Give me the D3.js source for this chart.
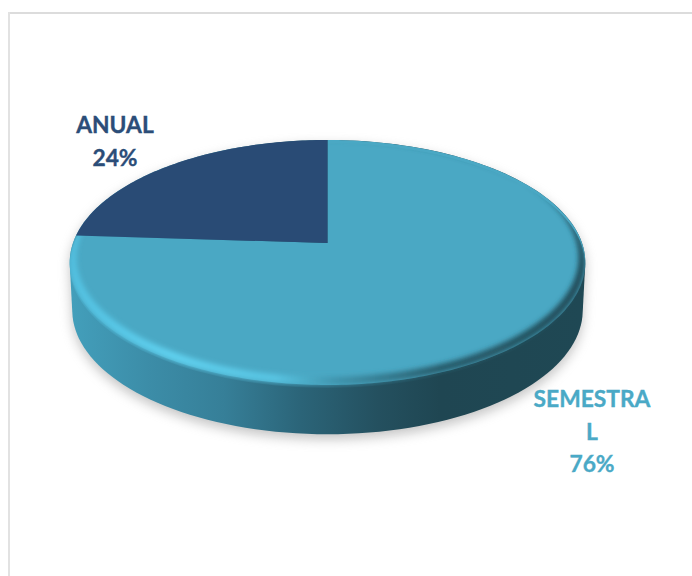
<!DOCTYPE html>
<html>
<head>
<meta charset="utf-8">
<script src="https://cdn.jsdelivr.net/npm/d3@7"></script>
<style>
  html, body { margin: 0; padding: 0; background: #fff; }
  svg { display: block; }
  text { font-family: Lato, "Open Sans", sans-serif; font-weight: 700; text-anchor: middle; }
</style>
</head>
<body>
<script>
const categories = ["SEMESTRAL", "ANUAL"];
const values = [76, 24];
const sliceColors = ["#4aa8c4", "#294b75"];
const labelColors = ["#4aa9c6", "#2b4d78"];
const labelWraps = [["SEMESTRA", "L"], ["ANUAL"]];

const width = 692, height = 576;
const svg = d3.select("body").append("svg").attr("width", width).attr("height", height);
const defs = svg.append("defs");

// Tilted-disc projection: unit-circle coordinates to screen, with foreshortening
const disc = { cx: 327.5, cy: 243, rx: 254.5, ry: 119.4, k: 0.159 };
function project(angle, d = disc) {
  const u = Math.sin(angle), v = -Math.cos(angle);
  const w = 1 - d.k * v;
  return [d.cx + d.rx * u / w, d.cy + d.ry * v / w];
}
const lineGen = d3.line();
const ringPath = d =>
  lineGen(d3.range(0, 360, 2).map(a => project(a * Math.PI / 180, d))) + "Z";
function slicePath(s) {
  const n = Math.ceil((s.endAngle - s.startAngle) * 60);
  const pts = d3.range(n + 1).map(i => project(s.startAngle + (s.endAngle - s.startAngle) * i / n));
  return lineGen([[disc.cx, disc.cy], ...pts]) + "Z";
}

const slices = d3.pie().sort(null)(values);

// The lower disc, displaced downward to give the pie its thickness
const lower = { ...disc, cy: disc.cy + 47.5, rx: disc.rx - 2.5, ry: disc.ry + 1.5 };
function bodyPath() {
  const pts = [];
  d3.range(0, 360, 2).forEach(a => {
    const rad = a * Math.PI / 180;
    pts.push(project(rad), project(rad, lower));
  });
  return lineGen(d3.polygonHull(pts)) + "Z";
}

// Inner edge of the bevel: a slightly smaller disc pushed toward the back,
// so the band between it and the top edge tapers away at the sides
const bevelInner = { ...disc, cy: disc.cy - 4.5, rx: disc.rx * 0.974, ry: disc.ry * 0.974 };
// The bevel's glow may spill a little past the front edge, but not past the sides
const bevelLimit = { ...disc, cy: disc.cy + 3 };

// Gradients and blurs
const wall = defs.append("linearGradient").attr("id", "wall")
  .attr("gradientUnits", "userSpaceOnUse").attr("x1", 70).attr("x2", 584).attr("y1", 0).attr("y2", 0);
[[0, "#439fbb"], [0.15, "#3c8da8"], [0.3, "#367f98"], [0.45, "#2b6478"],
 [0.6, "#24505f"], [0.72, "#1f4652"], [1, "#1f4854"]]
  .forEach(([o, c]) => wall.append("stop").attr("offset", o).attr("stop-color", c));

const rim = defs.append("linearGradient").attr("id", "rim")
  .attr("gradientUnits", "userSpaceOnUse").attr("x1", 70).attr("x2", 584).attr("y1", 0).attr("y2", 0);
[[0, "#52c0e0"], [0.2, "#5fd0ee"], [0.4, "#58c4e2"], [0.52, "#3f93ac"], [0.72, "#285c6b"], [1, "#214d5a"]]
  .forEach(([o, c]) => rim.append("stop").attr("offset", o).attr("stop-color", c));

defs.append("filter").attr("id", "shadowBlur").attr("x", "-10%").attr("y", "-10%")
  .attr("width", "120%").attr("height", "120%")
  .append("feGaussianBlur").attr("stdDeviation", 6);
defs.append("filter").attr("id", "rimBlur").attr("x", "-5%").attr("y", "-5%")
  .attr("width", "110%").attr("height", "110%")
  .append("feGaussianBlur").attr("stdDeviation", 2.8);
defs.append("clipPath").attr("id", "topClip").append("path")
  .attr("d", ringPath(bevelLimit));

// Panel outline on the top and left
svg.append("rect").attr("x", 8).attr("y", 12).attr("width", 684).attr("height", 2).attr("fill", "#dcdcdc");
svg.append("rect").attr("x", 8).attr("y", 12).attr("width", 2).attr("height", 564).attr("fill", "#e2e2e2");

// Soft ground shadow
svg.append("path").attr("d", bodyPath()).attr("fill", "#8a8a8a").attr("opacity", 0.5)
  .attr("transform", "translate(0,5)").attr("filter", "url(#shadowBlur)");

// Pie body
svg.append("path").attr("d", bodyPath()).attr("fill", "url(#wall)");

// Top face: the large slice, its bevel, then the small slice over the bevel's end
const faces = svg.append("g");
faces.append("path").attr("d", slicePath(slices[0])).attr("fill", sliceColors[0]);
faces.append("g").attr("clip-path", "url(#topClip)")
  .append("path")
  .attr("d", ringPath(disc) + ringPath(bevelInner))
  .attr("fill-rule", "evenodd")
  .attr("fill", "url(#rim)")
  .attr("filter", "url(#rimBlur)");
faces.append("path").attr("d", slicePath(slices[1])).attr("fill", sliceColors[1]);

// Data labels: wrapped category name followed by the share
const labelPos = [{ x: 592, y: 407, step: 32.5 }, { x: 115, y: 133, step: 33 }];
labelWraps.forEach((lines, i) => {
  const share = d3.format(".0%")(values[i] / d3.sum(values));
  svg.append("text").attr("fill", labelColors[i]).attr("stroke", labelColors[i])
    .attr("stroke-width", 0.35).attr("font-size", 22.8)
    .attr("aria-label", categories[i])
    .selectAll("tspan").data([...lines, share]).join("tspan")
    .attr("x", labelPos[i].x)
    .attr("y", (d, j) => labelPos[i].y + j * labelPos[i].step)
    .text(d => d);
});
</script>
</body>
</html>
